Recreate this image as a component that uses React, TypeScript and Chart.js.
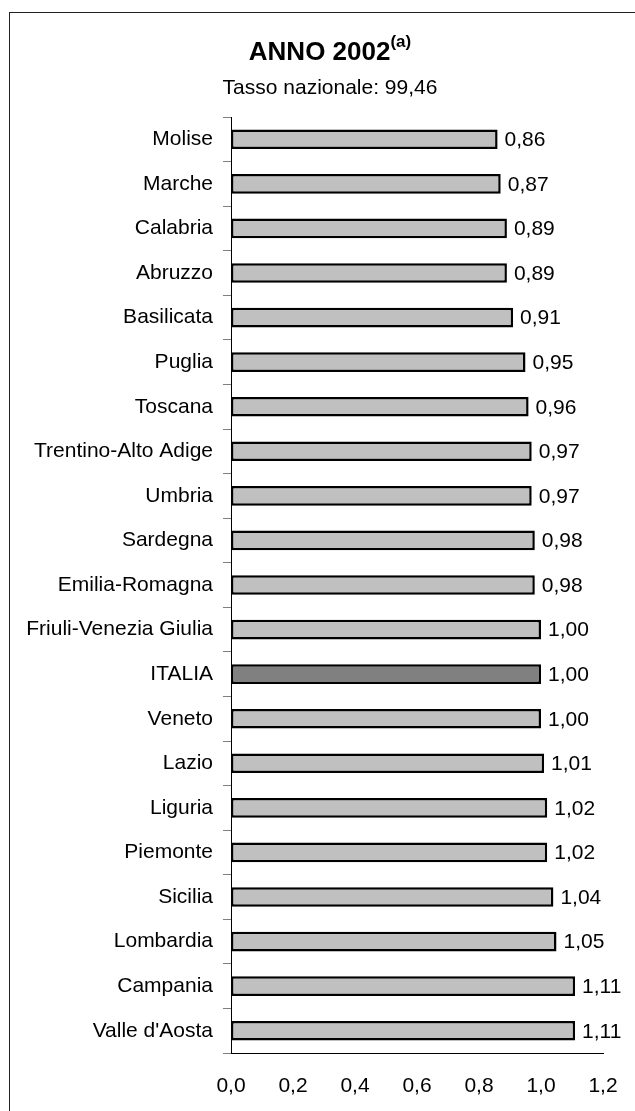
import React, { useEffect, useRef } from "react";
import { Chart, registerables } from "chart.js";

Chart.register(...registerables);

const regions = [
  "Molise",
  "Marche",
  "Calabria",
  "Abruzzo",
  "Basilicata",
  "Puglia",
  "Toscana",
  "Trentino-Alto Adige",
  "Umbria",
  "Sardegna",
  "Emilia-Romagna",
  "Friuli-Venezia Giulia",
  "ITALIA",
  "Veneto",
  "Lazio",
  "Liguria",
  "Piemonte",
  "Sicilia",
  "Lombardia",
  "Campania",
  "Valle d'Aosta",
];

const values = [
  0.86, 0.87, 0.89, 0.89, 0.91, 0.95, 0.96, 0.97, 0.97, 0.98, 0.98, 1.0, 1.0,
  1.0, 1.01, 1.02, 1.02, 1.04, 1.05, 1.11, 1.11,
];

const xTicks = [0, 0.2, 0.4, 0.6, 0.8, 1.0, 1.2];

const titleText = "ANNO 2002";
const titleNote = "(a)";
const subtitleText = "Tasso nazionale: 99,46";

const FONT = "'Liberation Sans', Arial, sans-serif";

const fmt = (v: number, d: number) => v.toFixed(d).replace(".", ",");

const valueLabels = {
  id: "valueLabels",
  afterDatasetsDraw(chart: any) {
    const ctx = chart.ctx;
    const meta = chart.getDatasetMeta(0);
    ctx.save();
    ctx.font = `21px ${FONT}`;
    ctx.fillStyle = "#000";
    ctx.textAlign = "left";
    ctx.textBaseline = "middle";
    meta.data.forEach((el: any, i: number) => {
      ctx.fillText(fmt(values[i], 2), el.x + 7, el.y + 1);
    });
    ctx.restore();
  },
};

export default function App() {
  const ref = useRef<HTMLCanvasElement>(null);

  useEffect(() => {
    if (!ref.current) return;
    const chart = new Chart(ref.current, {
      type: "bar",
      data: {
        labels: regions,
        datasets: [
          {
            data: values,
            backgroundColor: regions.map((r) =>
              r === "ITALIA" ? "#808080" : "#C0C0C0"
            ),
            borderColor: "#000",
            borderWidth: 2.5,
            borderSkipped: false,
            barPercentage: 0.44,
            categoryPercentage: 1,
          },
        ],
      },
      options: {
        indexAxis: "y",
        animation: false,
        responsive: false,
        maintainAspectRatio: false,
        layout: { padding: { top: 117, right: 32, left: 0, bottom: 0 } },
        plugins: {
          legend: { display: false },
          tooltip: { enabled: false },
          title: { display: false },
        },
        scales: {
          x: {
            type: "linear",
            min: 0,
            max: 1.2,
            afterBuildTicks: (scale: any) => {
              scale.ticks = xTicks.map((v) => ({ value: v }));
            },
            afterFit: (scale: any) => {
              scale.height = 58;
              scale.paddingLeft = 0;
              scale.paddingRight = 0;
            },
            grid: { display: false, drawTicks: false },
            border: { display: true, color: "#000", width: 1 },
            ticks: {
              padding: 21,
              color: "#000",
              font: { family: FONT, size: 21 },
              maxRotation: 0,
              callback: (v: any) => fmt(Number(v), 1),
            },
          },
          y: {
            type: "category",
            afterFit: (scale: any) => {
              scale.width = 231;
              scale.paddingTop = 0;
              scale.paddingBottom = 0;
            },
            grid: {
              display: true,
              offset: true,
              drawOnChartArea: false,
              drawTicks: true,
              tickLength: 8,
              color: "#808080",
              lineWidth: 1,
            },
            border: { display: true, color: "#000", width: 1 },
            ticks: {
              padding: 10,
              color: "#000",
              font: { family: FONT, size: 21 },
            },
          },
        },
      },
      plugins: [valueLabels],
    });
    return () => chart.destroy();
  }, []);

  return (
    <div
      style={{
        position: "fixed",
        left: 0,
        top: 0,
        width: 635,
        height: 1111,
        overflow: "hidden",
        background: "#fff",
        fontFamily: FONT,
      }}
    >
      <div
        style={{
          position: "absolute",
          left: 9,
          top: 12,
          width: 800,
          height: 1300,
          borderTop: "1px solid #222",
          borderLeft: "1px solid #222",
        }}
      />
      <canvas
        ref={ref}
        width={635}
        height={1111}
        style={{ position: "absolute", left: 0, top: 0, width: 635, height: 1111 }}
      />
      <div
        style={{
          position: "absolute",
          left: 0,
          top: 38,
          width: 660,
          textAlign: "center",
          fontSize: 26,
          fontWeight: "bold",
          lineHeight: 1,
          whiteSpace: "nowrap",
          color: "#000",
        }}
      >
        {titleText}
        <span style={{ fontSize: 17, position: "relative", top: -13 }}>
          {titleNote}
        </span>
      </div>
      <div
        style={{
          position: "absolute",
          left: 0,
          top: 76,
          width: 660,
          textAlign: "center",
          fontSize: 21,
          lineHeight: 1,
          whiteSpace: "nowrap",
          color: "#000",
        }}
      >
        {subtitleText}
      </div>
    </div>
  );
}
